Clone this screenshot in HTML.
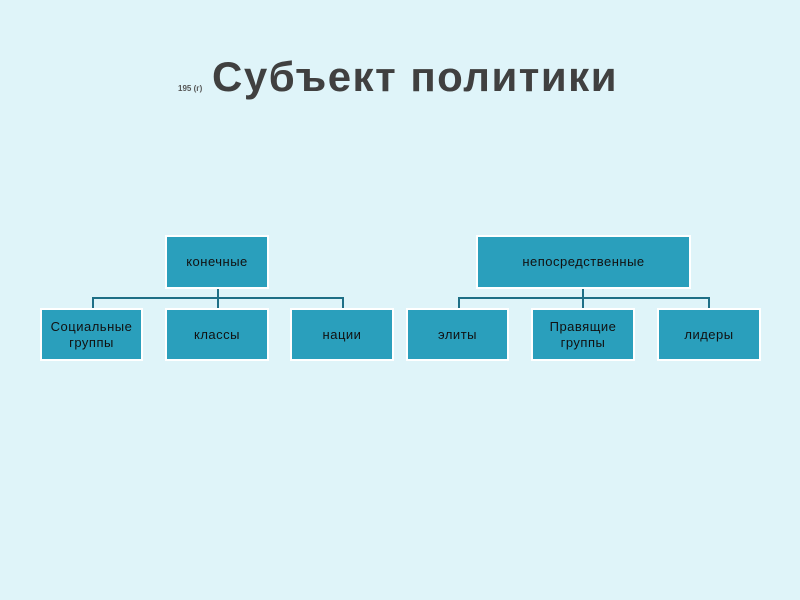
<!DOCTYPE html>
<html><head><meta charset="utf-8"><style>
body{margin:0;width:800px;height:600px;background:#dff4f9;position:relative;overflow:hidden;font-family:"Liberation Sans","DejaVu Sans",sans-serif}
.b{position:absolute;background:#2a9fbc;border:2px solid #fff;box-sizing:border-box;display:flex;align-items:center;justify-content:center;text-align:center;color:#111;font-size:13px;line-height:16px;letter-spacing:0.5px}
.l{position:absolute;background:#1e6f86}
</style></head><body>
<div style="position:absolute;left:178px;top:84px;font-size:8px;color:#555;font-weight:bold">195 (г)</div>
<div style="position:absolute;left:212px;top:53px;font-size:42px;font-weight:bold;color:#404040;letter-spacing:1.5px">Субъект политики</div>

<div class="b" style="left:165px;top:235px;width:104px;height:54px">конечные</div>
<div class="l" style="left:217px;top:289px;width:2px;height:19px"></div>
<div class="l" style="left:92px;top:297px;width:252px;height:2px"></div>
<div class="l" style="left:92px;top:297px;width:2px;height:11px"></div>
<div class="l" style="left:342px;top:297px;width:2px;height:11px"></div>
<div class="b" style="left:40px;top:308px;width:103px;height:53px">Социальные<br>группы</div>
<div class="b" style="left:165px;top:308px;width:104px;height:53px">классы</div>
<div class="b" style="left:290px;top:308px;width:104px;height:53px">нации</div>

<div class="b" style="left:476px;top:235px;width:215px;height:54px">непосредственные</div>
<div class="l" style="left:582px;top:289px;width:2px;height:19px"></div>
<div class="l" style="left:458px;top:297px;width:252px;height:2px"></div>
<div class="l" style="left:458px;top:297px;width:2px;height:11px"></div>
<div class="l" style="left:708px;top:297px;width:2px;height:11px"></div>
<div class="b" style="left:406px;top:308px;width:103px;height:53px">элиты</div>
<div class="b" style="left:531px;top:308px;width:104px;height:53px">Правящие<br>группы</div>
<div class="b" style="left:657px;top:308px;width:104px;height:53px">лидеры</div>
</body></html>
